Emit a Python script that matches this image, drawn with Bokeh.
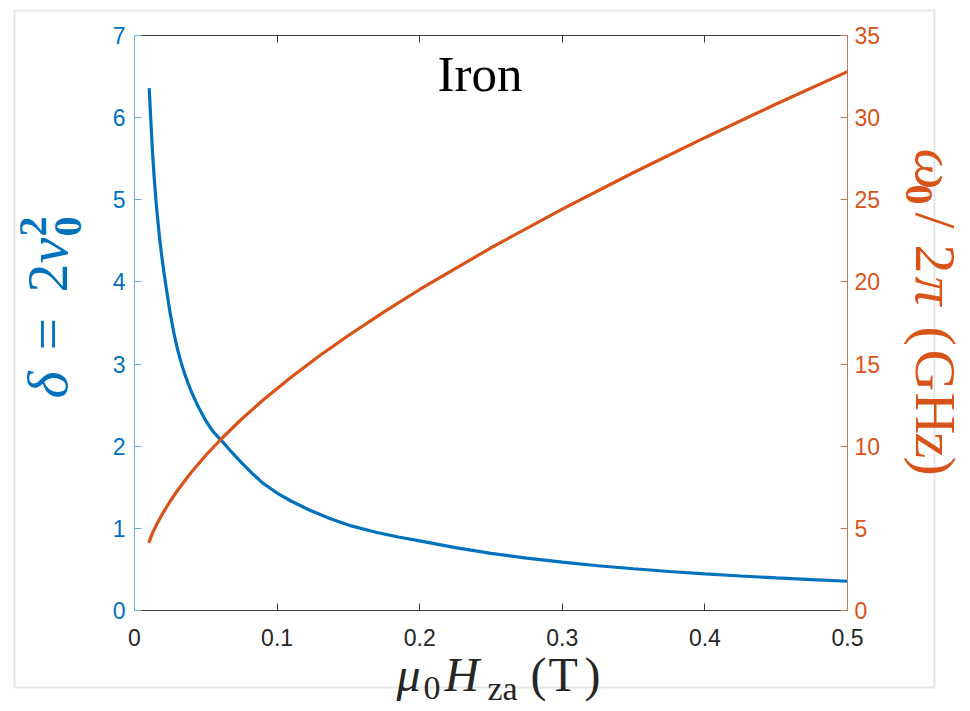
import math
from bokeh.plotting import figure
from bokeh.models import Range1d, LinearAxis, Label, BoxAnnotation, FixedTicker
from bokeh.embed import file_html
from bokeh.resources import INLINE

# ---- data ----
H_delta = [0.0103, 0.0115, 0.0125, 0.0137, 0.015, 0.0165, 0.0175, 0.019, 0.0206, 0.0225, 0.025,
           0.0275, 0.030, 0.0325, 0.035, 0.0375, 0.040, 0.045, 0.050, 0.055, 0.0615, 0.068, 0.075,
           0.0825, 0.090, 0.100, 0.110, 0.123, 0.137, 0.152, 0.170, 0.185, 0.200, 0.225, 0.250,
           0.275, 0.300, 0.325, 0.350, 0.375, 0.400, 0.425, 0.450, 0.475, 0.500]
delta = [6.36, 5.95, 5.62, 5.30, 5.00, 4.72, 4.55, 4.33, 4.12, 3.90, 3.62,
         3.39, 3.19, 3.03, 2.89, 2.77, 2.66, 2.47, 2.31, 2.18, 2.06, 1.93, 1.80,
         1.67, 1.55, 1.43, 1.33, 1.22, 1.12, 1.03, 0.95, 0.895, 0.848, 0.765, 0.695,
         0.637, 0.588, 0.545, 0.508, 0.475, 0.446, 0.420, 0.397, 0.375, 0.356]

H_freq = [0.0100, 0.0125, 0.015, 0.0175, 0.020, 0.025, 0.030, 0.035, 0.040, 0.050, 0.0615,
          0.075, 0.090, 0.110, 0.130, 0.150, 0.175, 0.200, 0.250, 0.300, 0.350, 0.400, 0.450, 0.500]
freq = [4.12, 4.68, 5.14, 5.55, 5.94, 6.65, 7.29, 7.87, 8.43, 9.45, 10.5,
        11.64, 12.8, 14.21, 15.52, 16.74, 18.18, 19.54, 22.08, 24.43, 26.66, 28.78, 30.83, 32.8]

x_ticks = [0, 0.1, 0.2, 0.3, 0.4, 0.5]
x_tick_labels = ["0", "0.1", "0.2", "0.3", "0.4", "0.5"]
left_ticks = [0, 1, 2, 3, 4, 5, 6, 7]
right_ticks = [0, 5, 10, 15, 20, 25, 30, 35]

BLUE = "#0072BD"
ORANGE = "#D95319"
DARK = "#262626"
TICK_FONT = "Liberation Sans"
SERIF = "Liberation Serif"

W, HGT = 970, 711
# plot box in page pixels
PL, PR, PT, PB = 134, 847, 35, 610
XMIN, XMAX, YMAX, FMAX = 0.0, 0.5, 7.0, 35.0
kx = (PR - PL) / (XMAX - XMIN)
ky = (PB - PT) / YMAX
x_range = Range1d(XMIN - PL / kx, XMAX + (W - PR) / kx)
y_range = Range1d(-(HGT - PB) / ky, YMAX + PT / ky)
f_range = Range1d(y_range.start * FMAX / YMAX, y_range.end * FMAX / YMAX)

p = figure(width=W, height=HGT, output_backend="svg", toolbar_location=None,
           x_range=x_range, y_range=y_range,
           x_axis_location=None, y_axis_location=None,
           min_border=0)
p.extra_y_ranges = {"freq": f_range}
p.grid.visible = False
p.outline_line_color = None
p.background_fill_color = "white"
p.border_fill_color = "white"


def style_axis(ax, color, line_color, standoff):
    ax.major_tick_in = 7
    ax.major_tick_out = 0
    ax.minor_tick_line_color = None
    ax.axis_line_color = line_color
    ax.axis_line_width = 1
    ax.major_tick_line_color = line_color
    ax.major_label_text_color = color
    ax.major_label_text_font = TICK_FONT
    ax.major_label_text_font_size = "23px"
    ax.major_label_standoff = standoff


xb = LinearAxis(ticker=FixedTicker(ticks=x_ticks), fixed_location=0, bounds=(XMIN, XMAX),
                major_label_overrides={t: s for t, s in zip(x_ticks, x_tick_labels)})
style_axis(xb, DARK, "#3a3a3a", 18)
p.add_layout(xb, "below")

xt = LinearAxis(ticker=FixedTicker(ticks=x_ticks), fixed_location=YMAX, bounds=(XMIN, XMAX))
style_axis(xt, DARK, "#3a3a3a", 0)
xt.major_label_text_font_size = "1px"
xt.major_label_text_alpha = 0
p.add_layout(xt, "above")

yl = LinearAxis(ticker=FixedTicker(ticks=left_ticks), fixed_location=XMIN, bounds=(0, YMAX))
style_axis(yl, BLUE, "#6aaee0", 9)
p.add_layout(yl, "left")

yr = LinearAxis(y_range_name="freq", ticker=FixedTicker(ticks=right_ticks),
                fixed_location=XMAX, bounds=(0, FMAX))
style_axis(yr, ORANGE, "#c07a5e", 7)
p.add_layout(yr, "right")

p.line(H_delta, delta, line_color=BLUE, line_width=3.2)
p.line(H_freq, freq, line_color=ORANGE, line_width=3.2, y_range_name="freq")

# outer gray frame, page pixels -> screen units (from bottom-left of the canvas)
p.add_layout(BoxAnnotation(left=14, right=934, bottom=HGT - 687, top=HGT - 10,
                           left_units="screen", right_units="screen",
                           bottom_units="screen", top_units="screen",
                           fill_color=None, line_color="#ababab", line_width=2))

BASE_SHIFT = 0.39  # empirical baseline correction (fraction of font size)


def lab(text, px, py, size, color, style="normal", angle=0.0, font=SERIF):
    d = BASE_SHIFT * size
    if angle == 0.0:
        ax_, ay_ = px, py - d
    elif angle > 0:
        ax_, ay_ = px - d, py
    else:
        ax_, ay_ = px + d, py
    p.add_layout(Label(x=ax_, y=HGT - ay_, x_units="screen", y_units="screen",
                       text=text, text_font=font, text_font_size=f"{size}px",
                       text_font_style=style, text_color=color, angle=angle,
                       text_align="left", text_baseline="alphabetic"))


# title
lab("Iron", 437, 93, 51, "black")

# x label  mu_0 H_za (T)
lab("μ", 396, 693, 48, DARK, "italic")
lab("0", 423, 701, 34, DARK)
lab("H", 444, 693, 48, DARK, "italic")
lab("za", 487, 701, 34, DARK)
lab("(", 530, 693, 48, DARK)
lab("T", 548, 693, 48, DARK)
lab(")", 584, 693, 48, DARK)

# left label  delta = 2 v_0^2  (reads upward)
up = math.pi / 2
lab("δ", 70, 398, 58, BLUE, "italic", up)
lab("=", 70, 350, 58, BLUE, "normal", up)
lab("2", 70, 292, 58, BLUE, "normal", up)
lab("v", 70, 263, 58, BLUE, "italic", up)
lab("0", 83, 236, 40, BLUE, "bold", up)
lab("2", 48, 236, 40, BLUE, "bold", up)

# right label  omega_0 / 2 pi (GHz)  (reads downward)
dn = -math.pi / 2
lab("ω", 912, 148, 58, ORANGE, "italic", dn)
lab("0", 903, 184, 40, ORANGE, "bold", dn)
lab("/", 912, 212, 58, ORANGE, "normal", dn)
lab("2", 912, 244, 58, ORANGE, "normal", dn)
lab("π", 912, 276, 58, ORANGE, "italic", dn)
lab("(", 912, 326, 58, ORANGE, "normal", dn)
lab("G", 912, 349, 58, ORANGE, "normal", dn)
lab("H", 912, 392, 58, ORANGE, "normal", dn)
lab("z", 912, 432, 58, ORANGE, "normal", dn)
lab(")", 912, 456, 58, ORANGE, "normal", dn)

open("out.html", "w").write(file_html(p, INLINE))
